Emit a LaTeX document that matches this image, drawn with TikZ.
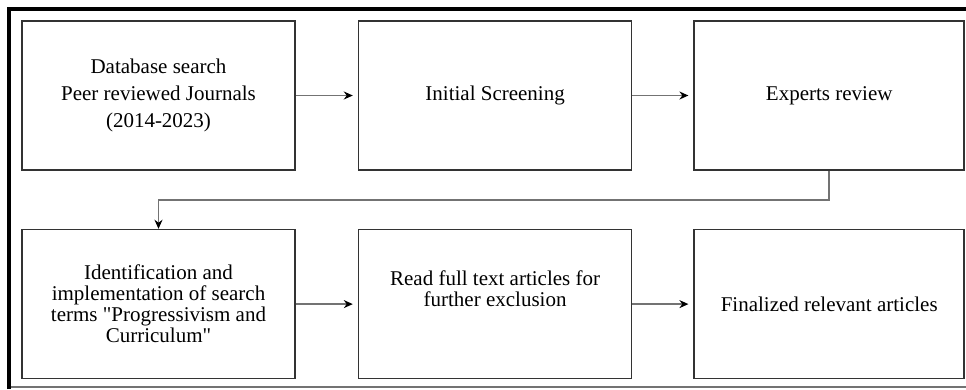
\documentclass[tikz,border=0pt]{standalone}
\usepackage{fontspec}
\setmainfont{Liberation Serif}
\usetikzlibrary{positioning, arrows.meta, calc}

\tikzset{
    stage/.style={draw=black!80, line width=1.6pt, minimum width=273pt, minimum height=149pt,
        inner sep=0pt, align=center, font=\fontsize{21}{21}\selectfont},
    flow/.style={draw=black!55, line width=1.8pt, -{Stealth[black, length=9pt, width=8pt]}, shorten >=5pt},
}

\begin{document}
\begin{tikzpicture}[x=1pt, y=-1pt]
    \useasboundingbox (0,0) rectangle (966,389);

    % frame
    \draw[black, line width=4pt, line join=miter] (9,389) -- (9,9) -- (966,9);
    \draw[black!55, line width=1.5pt] (11,387) -- (966,387);

    % first row
    \node[stage, font=\fontsize{21}{27}\selectfont] (b1) at (158.5,95.5)
        {Database search\\Peer reviewed Journals\\(2014-2023)};
    \node[stage, right=62pt of b1] (b2) {Initial Screening};
    \node[stage, minimum width=270pt, right=61pt of b2] (b3) {Experts review};

    % second row
    \node[stage, below=58pt of b1] (b4)
        {Identification and\\implementation of search\\terms \textquotedbl Progressivism and\\Curriculum\textquotedbl};
    \node[stage, below=58pt of b2] (b5) {};
    \node[align=center, font=\fontsize{21}{21}\selectfont] (t5) at ([yshift=15.5pt]b5.center)
        {Read full text articles for\\further exclusion};
    \node[stage, minimum width=270pt, below=58pt of b3] (b6) {Finalized relevant articles};

    % arrows
    \foreach \from/\to in {b1/b2, b2/b3, b4/b5, b5/b6}
    {
        \draw[flow] (\from) -- (\to);
    }

    % turn to second row
    \draw[flow, shorten >=0pt] (b3.south) |- ($(b3.south)!0.5!(b4.north)$) -| (b4.north);
\end{tikzpicture}
\end{document}
